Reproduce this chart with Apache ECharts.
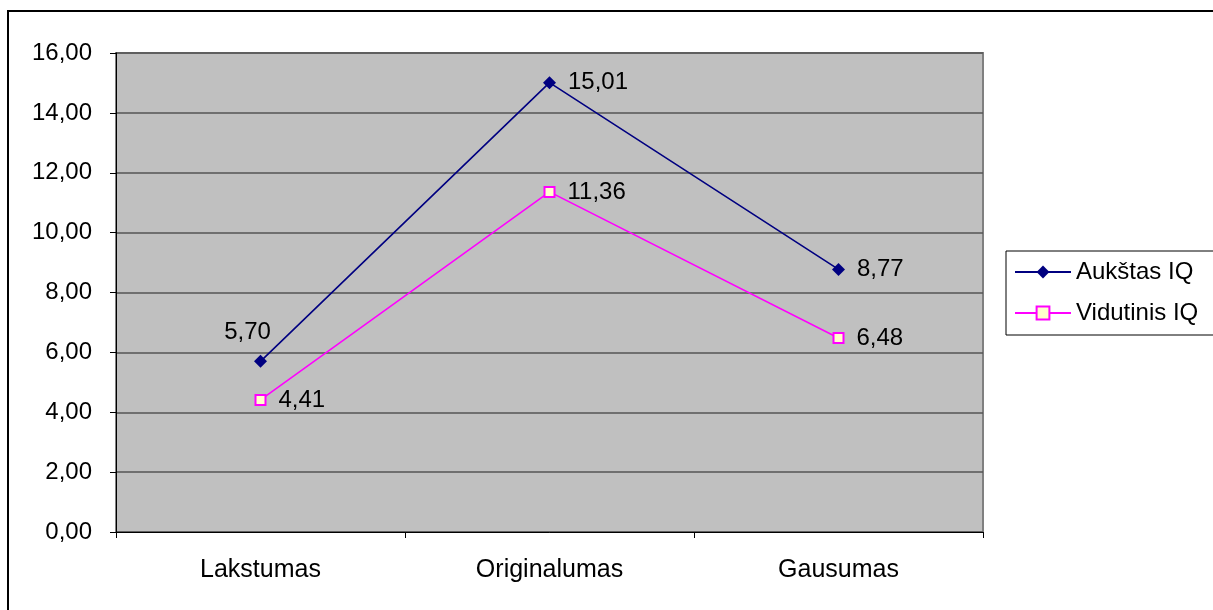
<!DOCTYPE html>
<html>
<head>
<meta charset="utf-8">
<script src="https://cdn.jsdelivr.net/npm/echarts@6/dist/echarts.min.js"></script>
<style>
html,body{margin:0;padding:0;background:#fff;}
#chart{width:1213px;height:610px;}
</style>
</head>
<body>
<div id="chart"></div>
<script>
const categories = ['Lakstumas', 'Originalumas', 'Gausumas'];
const seriesNames = ['Aukštas IQ', 'Vidutinis IQ'];
const highIQ = [5.70, 15.01, 8.77];
const midIQ = [4.41, 11.36, 6.48];
const yTicks = { min: 0, max: 16, interval: 2 };

const fmt = v => Number(v).toFixed(2).replace('.', ',');
const FONT = 'Liberation Sans, Arial, sans-serif';
const FS = 24;

const labelBase = {
  show: true, position: 'right', distance: 12, fontFamily: FONT, fontSize: FS, color: '#000',
  formatter: p => fmt(p.value)
};

const highData = highIQ.map((v, i) => i === 0
  ? { value: v, label: { position: 'top', distance: 5, offset: [-13, -5] } }
  : v);

const chart = echarts.init(document.getElementById('chart'), null, { renderer: 'canvas' });
chart.setOption({
  backgroundColor: '#ffffff',
  animation: false,
  graphic: [{
    type: 'rect',
    shape: { x: 8, y: 11, width: 1400, height: 800 },
    style: { fill: 'none', stroke: '#000', lineWidth: 2 },
    silent: true
  }],
  grid: {
    left: 116, top: 53, width: 867, height: 479,
    show: true, backgroundColor: '#C0C0C0', borderColor: '#808080', borderWidth: 2
  },
  legend: {
    orient: 'vertical',
    left: 1006, top: 251,
    padding: [9, 20, 10, 8],
    borderColor: '#000', borderWidth: 1,
    itemWidth: 56, itemHeight: 16, itemGap: 17,
    textStyle: { fontFamily: FONT, fontSize: FS, color: '#000', padding: [0, 0, 0, 0] },
    data: seriesNames
  },
  xAxis: {
    type: 'category',
    data: categories,
    boundaryGap: true,
    axisLine: { lineStyle: { color: '#000', width: 1 } },
    axisTick: { show: true, length: 6, lineStyle: { color: '#000' }, inside: false },
    axisLabel: { fontFamily: FONT, fontSize: 25, color: '#000', margin: 26 },
    splitLine: { show: false }
  },
  yAxis: {
    type: 'value',
    min: yTicks.min, max: yTicks.max, interval: yTicks.interval,
    axisLine: { show: true, lineStyle: { color: '#000', width: 1 } },
    axisTick: { show: true, length: 6, lineStyle: { color: '#000' } },
    axisLabel: { fontFamily: FONT, fontSize: FS, color: '#000', margin: 24, formatter: fmt },
    splitLine: { show: true, lineStyle: { color: '#555', width: 1.5 } }
  },
  series: [
    {
      name: seriesNames[0], type: 'line', data: highData,
      symbol: 'diamond', symbolSize: 13,
      itemStyle: { color: '#000080' },
      lineStyle: { color: '#000080', width: 1.6 },
      label: labelBase
    },
    {
      name: seriesNames[1], type: 'line', data: midIQ,
      symbol: 'rect', symbolSize: 10,
      itemStyle: { color: '#FFFFCC', borderColor: '#FF00FF', borderWidth: 2 },
      lineStyle: { color: '#FF00FF', width: 1.6 },
      label: labelBase
    }
  ]
});
</script>
</body>
</html>
